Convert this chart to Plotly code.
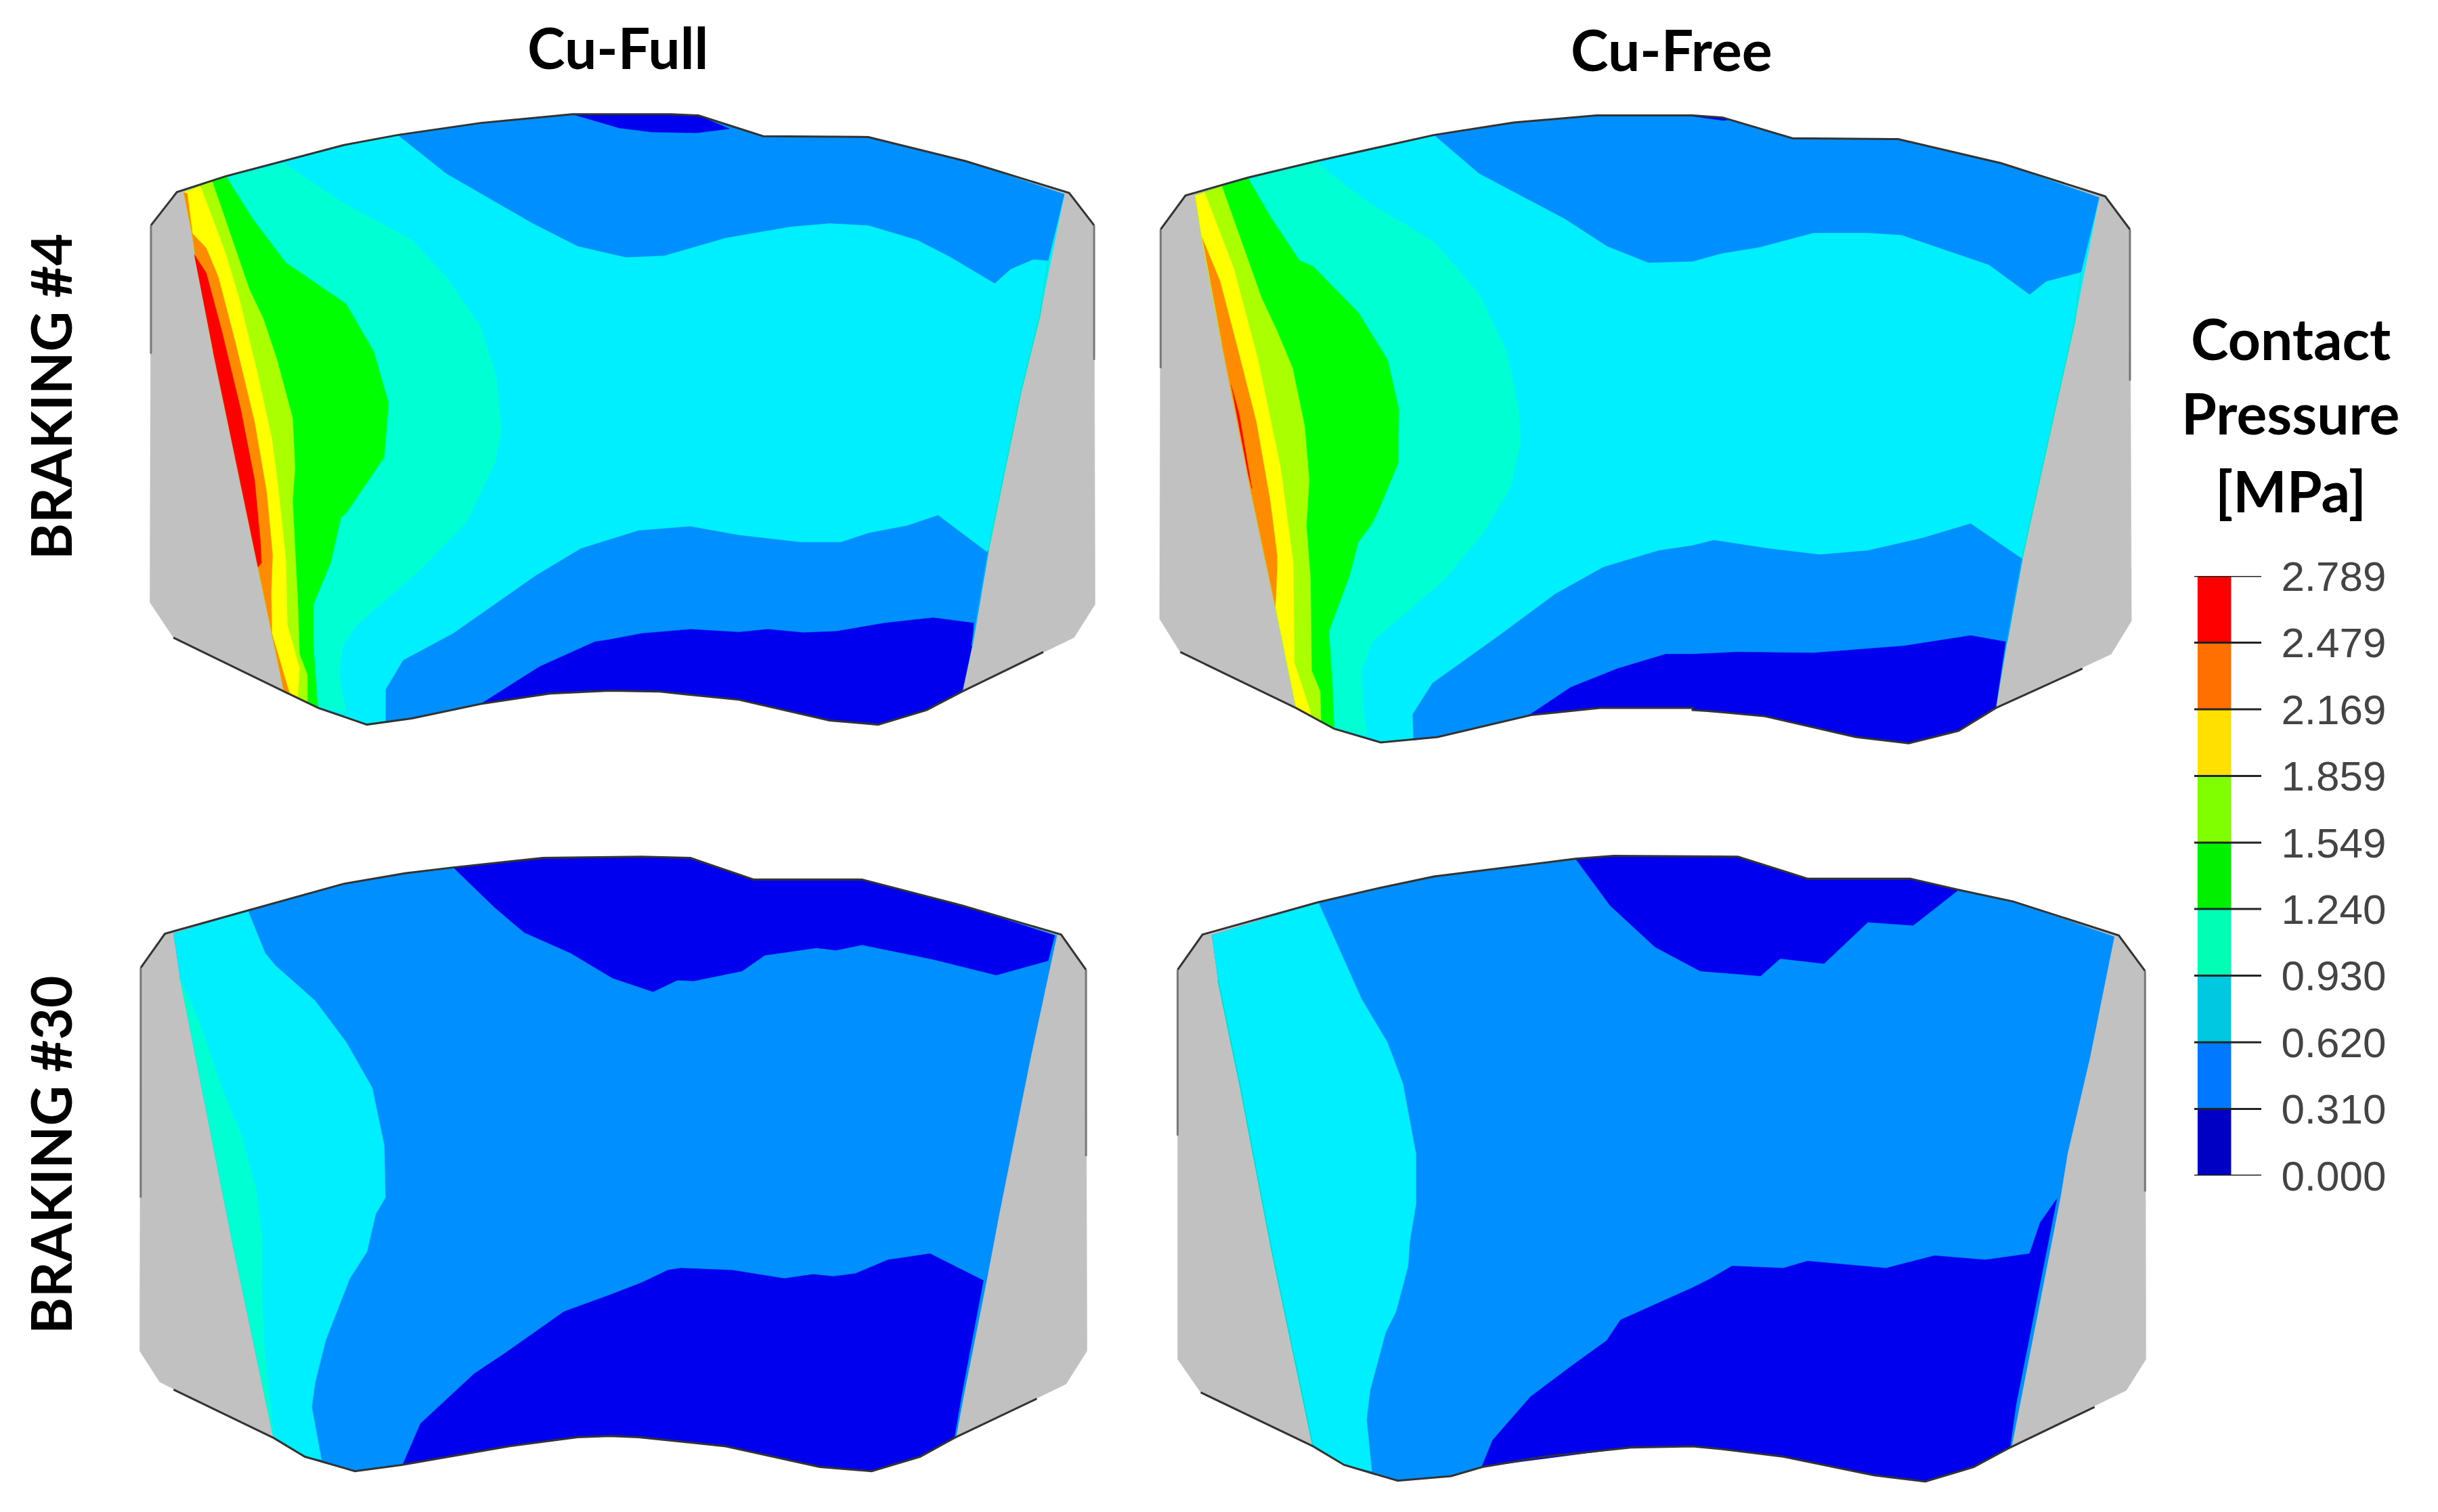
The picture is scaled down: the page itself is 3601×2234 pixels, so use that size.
import plotly.graph_objects as go

# ---------- text ----------
column_titles = ["Cu-Full", "Cu-Free"]
row_titles = ["BRAKING #4", "BRAKING #30"]
legend_title = ["Contact", "Pressure", "[MPa]"]

# ---------- colour scale ----------
levels = [0.000, 0.310, 0.620, 0.930, 1.240, 1.549, 1.859, 2.169, 2.479, 2.789]
level_labels = ["0.000", "0.310", "0.620", "0.930", "1.240", "1.549", "1.859", "2.169", "2.479", "2.789"]
level_colors = ["#0000C4", "#0078FF", "#00C8E0", "#00FFB4", "#00F000", "#80FF00", "#FFE000", "#FF7000", "#FF0000"]

GRAY = "#C1C1C1"; DARK = "#0000EE"; BLUE = "#008FFF"; CYAN = "#00EFFF"; AQUA = "#00FFD2"
GREEN = "#00FF00"; LIME = "#AAFF00"; YELLOW = "#FFFF00"; ORANGE = "#FF8C00"; RED = "#FF0000"

# ---------- contour outlines ----------
# Each segment = (tile, points); a tile is one of the two read-out windows of a panel.
# Panel A: Cu-Full, braking #4
a_tiles = {"L": (200, 140, 800), "R": (900, 140, 750)}
a_gray = [("L", [(120,235),(260,197),(430,160),(600,122),(760,97),(1000,68),(1265,47)]),
          ("R", [(190,47),(275,50),(475,100),(800,102),(1100,160),(1420,237),(1497,315),(1500,1230),(1435,1310),(1090,1440),(980,1485),(830,1520),(680,1510),(400,1460),(150,1440),(0,1438)]),
          ("L", [(1200,1445),(1000,1470),(800,1505),(670,1520),(530,1480),(430,1440),(110,1310),(42,1225),(45,315)])]
a_pad = [("L", [(140,235),(260,197),(430,160),(600,122),(760,97),(1000,68),(1265,47)]),
         ("R", [(190,47),(275,50),(475,100),(800,102),(1100,160),(1405,240),(1330,530),(1270,720),(1170,1100),(1120,1330),(1090,1440),(980,1485),(830,1520),(680,1510),(400,1460),(150,1440),(0,1438)]),
         ("L", [(1200,1445),(1000,1470),(800,1505),(670,1520),(530,1480),(430,1440),(355,1140),(225,620),(175,400),(165,340)])]
a_blue_top = [("L", [(760,97),(900,190),(1150,310),(1280,365),(1420,392)]),
              ("R", [(170,388),(360,345),(560,318),(680,310),(800,315),(950,350),(1050,390),(1190,455),(1240,420),(1310,397),(1355,400),(1405,240),(1100,160),(800,102),(475,100),(275,50),(190,47)]),
              ("L", [(1265,47),(1000,68)])]
a_blue_bot = [("L", [(725,1512),(725,1435),(775,1365),(920,1300),(1160,1160),(1290,1095)]),
              ("R", [(90,1052),(250,1042),(400,1063),(590,1080),(715,1080),(800,1058),(920,1040),(1015,1015),(1168,1105),(1120,1330),(1090,1440),(980,1485),(830,1520),(680,1510),(400,1460),(150,1440),(0,1438)]),
              ("L", [(1200,1445),(1000,1470),(800,1505)])]
a_dark_top = [("L", [(1265,47),(1400,80)]), ("R", [(130,90),(270,92),(370,82),(275,50),(190,47)])]
a_dark_bot = [("L", [(1000,1470),(1170,1380),(1330,1320)]),
              ("R", [(0,1315),(100,1300),(250,1290),(400,1297),(490,1290),(600,1298),(700,1295),(850,1275),(1000,1262),(1125,1275),(1120,1330),(1090,1440),(980,1485),(830,1520),(680,1510),(400,1460),(150,1440),(0,1438)]),
              ("L", [(1200,1445)])]
a_left_edge = [(430,1440),(355,1140),(225,620),(175,400),(165,340),(140,235)]
a_aqua = [("L", [(430,165),(600,260),(800,350),(900,440),(1000,560),(1045,680),(1060,810),(1040,890),(960,1030),(820,1150),(640,1280),(600,1330),(590,1400),(610,1490),(530,1480)] + a_left_edge + [(260,197)])]
a_green = [("L", [(262,197),(340,300),(435,405),(610,505),(690,620),(733,745),(720,875),(610,1010),(595,1020),(565,1130),(515,1230),(515,1330),(528,1480)] + a_left_edge + [(222,208)])]
a_lime = [("L", [(222,208),(330,470),(370,540),(410,640),(455,780),(462,900),(455,980),(470,1220),(475,1350),(498,1400),(498,1468)] + a_left_edge + [(188,220)])]
a_yellow = [("L", [(188,220),(260,380),(300,490),(350,660),(395,830),(415,960),(435,1120),(440,1280),(475,1385),(470,1452)] + a_left_edge + [(150,232)])]
a_orange = [("L", [(150,238),(165,335),(205,370),(240,440),(290,600),(345,790),(380,960),(397,1110),(393,1200),(395,1300),(447,1447),(430,1440),(355,1140),(225,620),(175,400),(165,340),(140,235)])]
a_red = [("L", [(170,385),(205,430),(250,570),(305,760),(345,930),(362,1080),(365,1130),(355,1140),(225,620)])]
a_sliver_aqua = [("R", [(1355,400),(1330,530),(1270,720),(1170,1100)])]
a_sliver_blue = [("R", [(1170,1100),(1120,1330)])]
a_line_top = [("L", [(45,315),(120,235),(260,197),(430,160),(600,122),(760,97),(1000,68),(1265,47)]),
              ("R", [(190,47),(275,50),(475,100),(800,102),(1100,160),(1420,237),(1497,315)])]
a_line_bot = [("R", [(1340,1345),(1090,1440),(980,1485),(830,1520),(680,1510),(400,1460),(150,1440),(0,1438)]),
              ("L", [(1200,1445),(1000,1470),(800,1505),(670,1520),(530,1480),(430,1440),(110,1310)])]
a_side_l = [("L", [(45,315),(45,625)])]
a_side_r = [("R", [(1497,315),(1497,640)])]

# Panel B: Cu-Free, braking #4
b_tiles = {"L": (1700, 140, 800), "R": (2500, 140, 700)}
b_gray = [("L", [(100,243),(280,200),(480,160),(820,97),(1050,67),(1290,50),(1568,50)]),
          ("R", [(100,55),(330,105),(680,107),(1020,165),(1365,245),(1447,325),(1452,1270),(1385,1350),(1003,1480),(880,1535),(715,1565),(540,1550),(240,1500),(50,1487),(0,1485)]),
          ("L", [(1568,1480),(1300,1480),(1100,1497),(830,1550),(665,1563),(530,1530),(420,1480),(85,1345),(25,1265),(28,325)])]
b_pad = [("L", [(128,243),(280,200),(480,160),(820,97),(1050,67),(1290,50),(1568,50)]),
         ("R", [(100,55),(330,105),(680,107),(1020,165),(1345,248),(1265,545),(1205,740),(1090,1120),(1040,1320),(1003,1480),(880,1535),(715,1565),(540,1550),(240,1500),(50,1487),(0,1485)]),
         ("L", [(1568,1480),(1300,1480),(1100,1497),(830,1550),(665,1563),(530,1530),(420,1480),(360,1235),(290,960),(205,600),(148,350)])]
b_blue_top = [("L", [(820,97),(950,190),(1200,300),(1320,365),(1440,405),(1568,402)]),
              ("R", [(100,382),(220,368),(400,333),(580,333),(690,338),(850,378),(980,410),(1115,482),(1170,450),(1285,428),(1345,248),(1020,165),(680,107),(330,105),(100,55)]),
              ("L", [(1568,50),(1290,50),(1050,67)])]
b_dark_top = [("R", [(0,52),(100,62),(125,60),(100,55)])]
b_blue_bot = [("L", [(760,1558),(758,1495),(815,1420),(1000,1310),(1170,1205),(1310,1140),(1470,1100),(1568,1088)]),
              ("R", [(70,1075),(250,1095),(420,1110),(580,1100),(760,1070),(920,1035),(1090,1120),(1040,1320),(1003,1480),(880,1535),(715,1565),(540,1550),(240,1500),(50,1487),(0,1485)]),
              ("L", [(1568,1480),(1300,1480),(1100,1497),(830,1550)])]
b_dark_bot = [("L", [(1095,1497),(1215,1430),(1350,1385),(1490,1350),(1568,1350)]),
              ("R", [(150,1345),(400,1347),(700,1330),(920,1305),(1035,1320),(1003,1480),(880,1535),(715,1565),(540,1550),(240,1500),(50,1487),(0,1485)]),
              ("L", [(1568,1480),(1300,1480)])]
b_left_edge = [(420,1480),(360,1235),(290,960),(205,600),(148,350),(128,243)]
b_aqua = [("L", [(475,160),(620,255),(820,355),(950,480),(1030,620),(1065,760),(1070,840),(1040,950),(960,1060),(850,1170),(640,1320),(610,1390),(615,1480),(625,1545),(530,1530)] + b_left_edge + [(280,200)])]
b_green = [("L", [(280,200),(350,300),(430,400),(470,415),(600,525),(685,640),(718,760),(715,890),(660,1000),(640,1035),(600,1080),(575,1160),(515,1295),(525,1420),(530,1528)] + b_left_edge + [(205,220)])]
b_lime = [("L", [(205,220),(320,490),(365,570),(410,660),(445,800),(458,930),(450,1040),(462,1170),(465,1390),(490,1440),(492,1512)] + b_left_edge + [(155,235)])]
b_yellow = [("L", [(155,235),(240,420),(310,640),(375,900),(412,1130),(415,1370),(462,1490),(462,1497)] + b_left_edge)]
b_orange = [("L", [(148,345),(200,450),(250,610),(305,790),(345,980),(365,1110),(365,1150),(360,1235),(290,960),(205,600)])]
b_red = [("L", [(232,700),(255,770),(292,950),(280,910)])]
b_sliver_aqua = [("R", [(1285,428),(1265,545),(1205,740),(1090,1120)])]
b_sliver_blue = [("R", [(1090,1120),(1040,1320)])]
b_line_top = [("L", [(28,325),(100,243),(280,200),(480,160),(820,97),(1050,67),(1290,50),(1568,50)]),
              ("R", [(100,55),(330,105),(680,107),(1020,165),(1365,245),(1447,325)])]
b_line_bot = [("R", [(1290,1385),(1003,1480),(880,1535),(715,1565),(540,1550),(240,1500),(50,1487),(0,1485)]),
              ("L", [(1568,1480),(1300,1480),(1100,1497),(830,1550),(665,1563),(530,1530),(420,1480),(85,1345)])]
b_side_l = [("L", [(28,325),(28,660)])]
b_side_r = [("R", [(1447,325),(1447,690)])]

# Panel C: Cu-Full, braking #30
c_tiles = {"L": (190, 1240, 800), "R": (900, 1240, 750)}
c_gray = [("L", [(105,228),(345,172),(620,108),(800,82),(940,68),(1200,45)]),
          ("R", [(100,42),(250,45),(445,97),(780,97),(1090,160),(1395,230),(1472,315),(1475,1235),(1410,1315),(1065,1445),(960,1490),(810,1525),(650,1515),(360,1465),(90,1443),(0,1440)]),
          ("L", [(1300,1443),(1100,1465),(790,1510),(655,1525),(510,1490),(420,1445),(90,1310),(32,1235),(35,310)])]
c_pad = [("L", [(130,228),(345,172),(620,108),(800,82),(940,68),(1200,45)]),
         ("R", [(100,42),(250,45),(445,97),(780,97),(1090,160),(1382,232),(1300,530),(1205,900),(1165,1065),(1095,1340),(1070,1445),(960,1490),(810,1525),(650,1515),(360,1465),(90,1443),(0,1440)]),
         ("L", [(1300,1443),(1100,1465),(790,1510),(655,1525),(510,1490),(420,1445),(300,970),(205,570),(148,330)])]
c_cyan = [("L", [(130,228),(345,172),(395,275),(425,305),(540,390),(630,490),(705,600),(740,740),(743,865),(715,905),(690,995),(640,1060),(570,1210),(540,1310),(530,1370),(558,1497),(510,1490),(420,1445),(300,970),(205,570),(148,330)])]
c_aqua = [("L", [(148,335),(205,440),(270,600),(330,720),(370,850),(388,970),(385,1060),(392,1220),(420,1445),(300,970),(205,570)])]
c_dark_top = [("L", [(940,68),(1060,165),(1145,225),(1280,275),(1400,335)]),
              ("R", [(135,368),(210,340),(260,342),(410,318),(480,280),(640,262),(700,268),(780,255),(1000,290),(1195,328),(1355,293),(1375,232),(1090,160),(780,97),(445,97),(250,45),(100,42)]),
              ("L", [(1200,45)])]
c_dark_bot = [("L", [(793,1510),(845,1410),(1000,1290),(1090,1240),(1260,1140)]),
              ("R", [(0,1100),(100,1070),(180,1040),(220,1035),(380,1040),(540,1060),(630,1050),(690,1055),(760,1048),(860,1015),(990,1000),(1155,1065),(1088,1340),(1065,1445),(960,1490),(810,1525),(650,1515),(360,1465),(90,1443),(0,1440)]),
              ("L", [(1300,1443),(1100,1465)])]
c_line_top = [("L", [(35,310),(105,228),(345,172),(620,108),(800,82),(940,68),(1200,45)]),
              ("R", [(100,42),(250,45),(445,97),(780,97),(1090,160),(1395,230),(1472,315)])]
c_line_bot = [("R", [(1320,1350),(1065,1445),(960,1490),(810,1525),(650,1515),(360,1465),(90,1443),(0,1440)]),
              ("L", [(1300,1443),(1100,1465),(790,1510),(655,1525),(510,1490),(420,1445),(130,1328)])]
c_side_l = [("L", [(35,310),(35,865)])]
c_side_r = [("R", [(1472,315),(1472,765)])]

# Panel D: Cu-Free, braking #30
d_tiles = {"L": (1720, 1240, 800), "R": (2500, 1240, 700)}
d_gray = [("L", [(110,230),(445,152),(620,118),(780,90),(1190,47),(1300,40)]),
          ("R", [(150,42),(380,95),(720,95),(880,122),(1060,150),(1410,232),(1497,318),(1500,1255),(1435,1330),(1050,1468),(930,1515),(770,1550),(600,1535),(300,1490),(100,1472),(0,1465)]),
          ("L", [(1350,1468),(1100,1490),(920,1515),(830,1537),(675,1548),(520,1510),(430,1465),(105,1335),(38,1255),(38,315)])]
d_pad = [("L", [(137,232),(445,152),(620,118),(780,90),(1190,47),(1300,40)]),
         ("R", [(150,42),(380,95),(720,95),(880,122),(1060,150),(1395,235),(1315,525),(1240,760),(1218,860),(1082,1365),(1055,1468),(930,1515),(770,1550),(600,1535),(300,1490),(100,1472),(0,1465)]),
         ("L", [(1350,1468),(1100,1490),(920,1515),(830,1537),(675,1548),(520,1510),(430,1465),(310,990),(220,600),(155,340)])]
d_cyan = [("L", [(137,232),(445,152),(570,385),(645,490),(690,590),(728,760),(728,880),(710,970),(705,1030),(670,1140),(640,1190),(595,1330),(585,1400),(600,1525),(520,1510),(430,1465),(310,990),(220,600),(155,340)])]
d_dark_top = [("L", [(1190,47),(1290,160),(1420,260)]),
              ("R", [(25,318),(225,330),(290,288),(435,300),(580,200),(730,208),(880,122),(720,95),(380,95),(150,42)]),
              ("L", [(1300,40)])]
d_dark_bot = [("L", [(918,1515),(950,1450),(1060,1345),(1180,1270),(1280,1210),(1320,1160)]),
              ("R", [(0,1082),(60,1060),(130,1030),(300,1035),(380,1018),(640,1035),(800,1005),(970,1015),(1115,1000),(1150,925),(1205,868),(1070,1365),(1050,1468),(930,1515),(770,1550),(600,1535),(300,1490),(100,1472),(0,1465)]),
              ("L", [(1350,1468)])]
d_sliver_aqua = [("L", [(155,340),(220,600),(310,990),(430,1465)])]
d_line_top = [("L", [(38,315),(110,230),(445,152),(620,118),(780,90),(1190,47),(1300,40)]),
              ("R", [(150,42),(380,95),(720,95),(880,122),(1060,150),(1410,232),(1497,318)])]
d_line_bot = [("R", [(1330,1370),(1050,1468),(930,1515),(770,1550),(600,1535),(300,1490),(100,1472),(0,1465)]),
              ("L", [(1350,1468),(1100,1490),(920,1515),(830,1537),(675,1548),(520,1510),(430,1465),(105,1335)])]
d_side_l = [("L", [(38,315),(38,715)])]
d_side_r = [("R", [(1497,318),(1497,850)])]


def coords(tiles, segments):
    xs, ys = [], []
    for tile, pts in segments:
        x0, y0, w = tiles[tile]
        for x, y in pts:
            xs.append(x0 + x * w / 1568)
            ys.append(y0 + y * 960 / 1568)
    return xs, ys


fig = go.Figure()


def fill(tiles, segments, color):
    xs, ys = coords(tiles, segments)
    fig.add_trace(go.Scatter(x=xs, y=ys, mode="lines", fill="toself", fillcolor=color,
                             line=dict(color=color, width=0.5), hoverinfo="skip", showlegend=False))


def stroke(tiles, segments, color, width):
    xs, ys = coords(tiles, segments)
    fig.add_trace(go.Scatter(x=xs, y=ys, mode="lines", line=dict(color=color, width=width),
                             hoverinfo="skip", showlegend=False))


for seg, col in [(a_gray, GRAY), (a_pad, CYAN), (a_blue_top, BLUE), (a_blue_bot, BLUE), (a_dark_top, DARK),
                 (a_dark_bot, DARK), (a_aqua, AQUA), (a_green, GREEN), (a_lime, LIME), (a_yellow, YELLOW),
                 (a_orange, ORANGE), (a_red, RED)]:
    fill(a_tiles, seg, col)
stroke(a_tiles, a_sliver_aqua, "#00E8D0", 2)
stroke(a_tiles, a_sliver_blue, "#00B0FF", 2)
for seg, col, w in [(a_line_top, "#333333", 3), (a_line_bot, "#333333", 3), (a_side_l, "#777777", 3), (a_side_r, "#777777", 3)]:
    stroke(a_tiles, seg, col, w)

for seg, col in [(b_gray, GRAY), (b_pad, CYAN), (b_blue_top, BLUE), (b_blue_bot, BLUE), (b_dark_top, DARK),
                 (b_dark_bot, DARK), (b_aqua, AQUA), (b_green, GREEN), (b_lime, LIME), (b_yellow, YELLOW),
                 (b_orange, ORANGE), (b_red, RED)]:
    fill(b_tiles, seg, col)
stroke(b_tiles, b_sliver_aqua, "#00E8D0", 2)
stroke(b_tiles, b_sliver_blue, "#00B0FF", 2)
for seg, col, w in [(b_line_top, "#333333", 3), (b_line_bot, "#333333", 3), (b_side_l, "#777777", 3), (b_side_r, "#777777", 3)]:
    stroke(b_tiles, seg, col, w)

for seg, col in [(c_gray, GRAY), (c_pad, BLUE), (c_cyan, CYAN), (c_aqua, AQUA), (c_dark_top, DARK), (c_dark_bot, DARK)]:
    fill(c_tiles, seg, col)
for seg, col, w in [(c_line_top, "#333333", 3), (c_line_bot, "#333333", 3), (c_side_l, "#777777", 3), (c_side_r, "#777777", 3)]:
    stroke(c_tiles, seg, col, w)

for seg, col in [(d_gray, GRAY), (d_pad, BLUE), (d_cyan, CYAN), (d_dark_top, DARK), (d_dark_bot, DARK)]:
    fill(d_tiles, seg, col)
stroke(d_tiles, d_sliver_aqua, "#00E0D8", 2)
for seg, col, w in [(d_line_top, "#333333", 3), (d_line_bot, "#333333", 3), (d_side_l, "#777777", 3), (d_side_r, "#777777", 3)]:
    stroke(d_tiles, seg, col, w)

# ---------- colour bar on its own value axis ----------
for i, col in enumerate(level_colors):
    fig.add_trace(go.Bar(x=[0.3], y=[levels[i + 1] - levels[i]], base=[levels[i]], width=[0.5],
                         marker=dict(color=col, line=dict(width=0)), xaxis="x2", yaxis="y2",
                         hoverinfo="skip", showlegend=False))
tick_x, tick_y = [], []
for lv in levels:
    tick_x += [0, 1, None]
    tick_y += [lv, lv, None]
fig.add_trace(go.Scatter(x=tick_x, y=tick_y, mode="lines", line=dict(color="#222222", width=3),
                         xaxis="x2", yaxis="y2", hoverinfo="skip", showlegend=False, cliponaxis=False))

W, H = 3601, 2234
title_font = dict(family="Lato", size=84, color="#000000", weight="bold")
row_font = dict(family="Lato", size=82, color="#000000", weight="bold")
annotations = [
    dict(x=912, y=69, text=column_titles[0], showarrow=False, xref="x", yref="y", font=title_font),
    dict(x=2469, y=72, text=column_titles[1], showarrow=False, xref="x", yref="y", font=title_font),
    dict(x=74, y=586, text=row_titles[0], showarrow=False, xref="x", yref="y", textangle=-90, font=row_font),
    dict(x=74, y=1706, text=row_titles[1], showarrow=False, xref="x", yref="y", textangle=-90, font=row_font),
    dict(x=3383, y=499, text=legend_title[0], showarrow=False, xref="x", yref="y", font=title_font),
    dict(x=3383, y=609, text=legend_title[1], showarrow=False, xref="x", yref="y", font=title_font),
    dict(x=3383, y=724, text=legend_title[2], showarrow=False, xref="x", yref="y", font=title_font),
]

fig.update_layout(
    template="none",
    width=W, height=H, margin=dict(l=0, r=0, t=0, b=0, pad=0, autoexpand=False),
    paper_bgcolor="white", plot_bgcolor="white", showlegend=False, barmode="overlay",
    annotations=annotations,
    xaxis=dict(domain=[0, 1], range=[0, W], visible=False, fixedrange=True, automargin=False),
    yaxis=dict(domain=[0, 1], range=[H, 0], visible=False, fixedrange=True, automargin=False),
    xaxis2=dict(domain=[3241 / W, 3340 / W], range=[0, 1], visible=False, anchor="y2", fixedrange=True, automargin=False),
    yaxis2=dict(domain=[1 - 1737 / H, 1 - 851 / H], range=[0, 2.789], anchor="x2", side="right",
                tickmode="array", tickvals=levels, ticktext=level_labels,
                tickfont=dict(family="Liberation Sans", size=62, color="#444444"),
                ticks="outside", ticklen=16, tickcolor="rgba(0,0,0,0)", showgrid=False, zeroline=False,
                showline=False, fixedrange=True, automargin=False),
)
fig.write_html("out.html", post_script="document.body.style.margin='0';", config={"displayModeBar": False})
